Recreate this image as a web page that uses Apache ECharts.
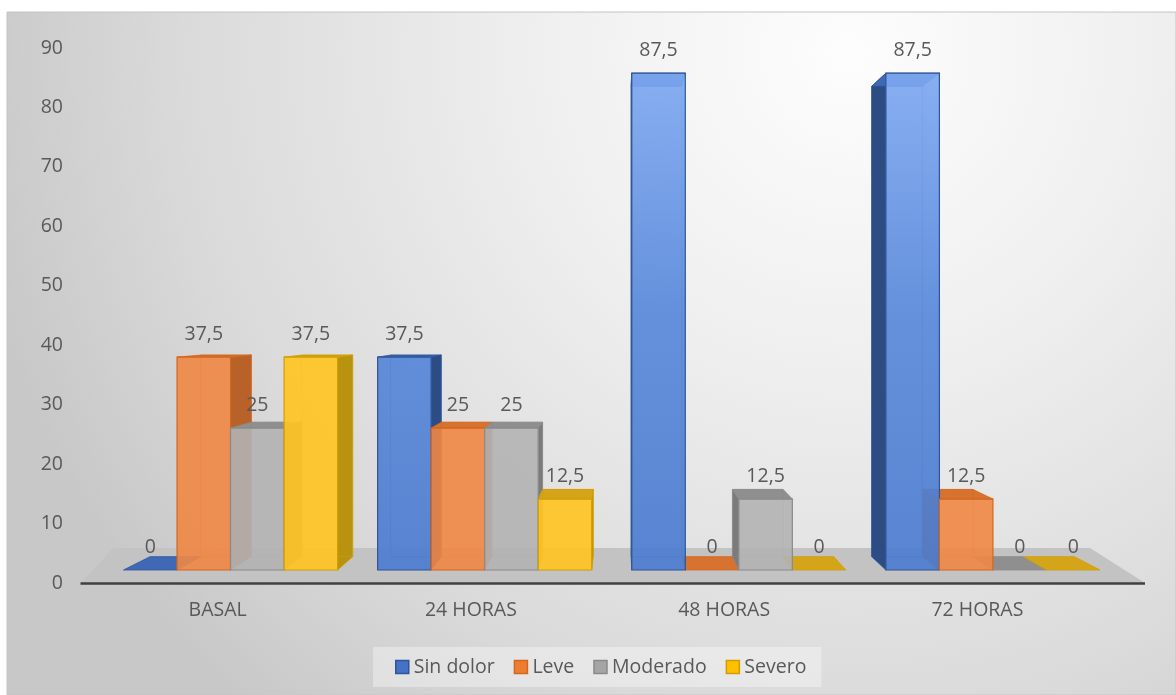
<!DOCTYPE html>
<html>
<head>
<meta charset="utf-8">
<script src="https://cdn.jsdelivr.net/npm/echarts@6/dist/echarts.min.js"></script>
<style>
html,body{margin:0;padding:0;background:#ffffff;}
#chart{width:1176px;height:695px;}
</style>
</head>
<body>
<div id="chart"></div>
<script>
// ---- data ----
const categories = ['BASAL', '24 HORAS', '48 HORAS', '72 HORAS'];
const seriesNames = ['Sin dolor', 'Leve', 'Moderado', 'Severo'];
const sinDolor = [0, 37.5, 87.5, 87.5];
const leve = [37.5, 25, 0, 12.5];
const moderado = [25, 25, 12.5, 0];
const severo = [37.5, 12.5, 0, 0];
const yTicks = [0, 10, 20, 30, 40, 50, 60, 70, 80, 90];

const seriesValues = [sinDolor, leve, moderado, severo];

// ---- styles ----
const FONT_FAMILY = '"Open Sans", "Noto Sans", sans-serif';
const FONT_SIZE = 19.5;
const FONT = FONT_SIZE + 'px ' + FONT_FAMILY;

const palette = [
  { top: '#3f69b5', side: '#2d4c84', edge: '#2f5597', legend: '#4472C4' },
  { front: 'rgba(240,135,68,0.9)', top: '#d7732f', side: '#b8622a', edge: '#d2671f', legend: '#ED7D31' },
  { front: 'rgba(178,178,178,0.9)', top: '#8f8f8f', side: '#7b7b7b', edge: '#8a8a8a', legend: '#A5A5A5' },
  { front: 'rgba(254,196,36,0.92)', top: '#d4a51a', side: '#b8930f', edge: '#d09e00', legend: '#FFC000' }
];
const BAR_FRAC = 53.5 / 254;
const K = 0.0534;

function fmt(v) { return String(v).replace('.', ','); }

function frontFill(s, cs) {
  if (s === 0) {
    return new echarts.graphic.LinearGradient(0, cs.y, 0, cs.y + cs.height, [
      { offset: 0, color: 'rgba(128,170,242,0.92)' },
      { offset: 0.5, color: 'rgba(88,136,218,0.92)' },
      { offset: 1, color: 'rgba(76,124,207,0.92)' }
    ], true);
  }
  return palette[s].front;
}

function geom(params, api, s) {
  const ci = api.value(0), v = api.value(1);
  const base = api.coord([ci, 0]);
  const top = api.coord([ci, v]);
  const band = api.size([1, 0])[0];
  const bw = band * BAR_FRAC;
  const x0 = base[0] - 2 * bw + s * bw, x1 = x0 + bw;
  const cs = params.coordSys;
  const vx = cs.x + cs.width * 0.508, vy = cs.y + cs.height * 0.51;
  const back = (x, y) => [x + K * (vx - x), y + K * (vy - y)];
  return { x0, x1, yb: base[1], yt: top[1], back, vx, v, cs };
}

function depthRenderer(s) {
  const c = palette[s];
  return function (params, api) {
    const g = geom(params, api, s);
    const children = [];
    const cx = (g.x0 + g.x1) / 2;
    const sx = cx < g.vx ? g.x1 : g.x0;
    if (g.yt < g.yb) {
      children.push({
        type: 'polygon',
        shape: { points: [[sx, g.yt], g.back(sx, g.yt), g.back(sx, g.yb), [sx, g.yb]] },
        style: { fill: c.side, stroke: c.edge, lineWidth: 0.8 }
      });
    }
    children.push({
      type: 'polygon',
      shape: { points: [[g.x0, g.yt], [g.x1, g.yt], g.back(g.x1, g.yt), g.back(g.x0, g.yt)] },
      style: { fill: c.top, stroke: c.edge, lineWidth: 0.8 }
    });
    if (g.yt < g.yb) {
      children.push({
        type: 'polygon',
        shape: { points: [g.back(g.x0, g.yt), g.back(g.x1, g.yt), g.back(g.x1, g.yb), g.back(g.x0, g.yb)] },
        style: { fill: 'none', stroke: c.edge, lineWidth: 1, opacity: 0.5 }
      });
    }
    return { type: 'group', children };
  };
}

function frontRenderer(s) {
  const c = palette[s];
  return function (params, api) {
    const g = geom(params, api, s);
    const children = [];
    if (g.yt < g.yb) {
      children.push({
        type: 'rect',
        shape: { x: g.x0, y: g.yt, width: g.x1 - g.x0, height: g.yb - g.yt },
        style: { fill: frontFill(s, g.cs), stroke: c.edge, lineWidth: 1.2 }
      });
    }
    children.push({
      type: 'text',
      style: {
        text: fmt(g.v), x: (g.x0 + g.x1) / 2, y: g.yt - 23,
        align: 'center', verticalAlign: 'middle', textAlign: 'center', textVerticalAlign: 'middle',
        fill: '#595959', font: FONT
      }
    });
    return { type: 'group', children };
  };
}

function floorRenderer(params, api) {
  const cs = params.coordSys;
  const y0 = api.coord([0, 0])[1];
  const L = cs.x, R = cs.x + cs.width;
  return {
    type: 'group',
    children: [
      {
        type: 'polygon',
        shape: { points: [[L - 23, y0 + 13], [R + 25, y0 + 13], [R - 30, y0 - 22], [L + 10, y0 - 22]] },
        style: { fill: '#c3c3c3' }
      },
      {
        type: 'line',
        shape: { x1: L - 23, y1: y0 + 13.5, x2: R + 25, y2: y0 + 13.5 },
        style: { stroke: '#404040', lineWidth: 2.5 }
      }
    ]
  };
}

const series = [{
  type: 'custom', name: 'floor', xAxisIndex: 1, yAxisIndex: 1,
  data: [[0, 0]], renderItem: floorRenderer, z: 1, silent: true
}];
seriesNames.forEach((name, s) => {
  const data = categories.map((_, i) => [i, seriesValues[s][i]]);
  series.push({
    type: 'custom', name, xAxisIndex: 1, yAxisIndex: 1, data,
    renderItem: depthRenderer(s), z: 2, itemStyle: { color: palette[s].legend }
  });
});
seriesNames.forEach((name, s) => {
  const data = categories.map((_, i) => [i, seriesValues[s][i]]);
  series.push({
    type: 'custom', name, xAxisIndex: 1, yAxisIndex: 1, data,
    renderItem: frontRenderer(s), z: 3, itemStyle: { color: palette[s].legend }
  });
});

const chart = echarts.init(document.getElementById('chart'));
chart.setOption({
  animation: false,
  backgroundColor: '#ffffff',
  graphic: [{
    type: 'rect', z: -10, silent: true,
    shape: { x: 7, y: 12, width: 1169, height: 683 },
    style: {
      stroke: '#c4c4c4', lineWidth: 1,
      fill: new echarts.graphic.RadialGradient(0.72, 0.06, 1.3, [
        { offset: 0, color: '#fdfdfd' },
        { offset: 0.35, color: '#efefef' },
        { offset: 0.75, color: '#dadada' },
        { offset: 1, color: '#c8c8c8' }
      ])
    }
  }],
  legend: {
    data: seriesNames.map((n, s) => ({
      name: n, icon: 'rect',
      itemStyle: { color: palette[s].legend, borderColor: palette[s].edge, borderWidth: 1.5 }
    })),
    left: 373, top: 647,
    padding: [10, 15, 10, 22],
    itemWidth: 13, itemHeight: 13, itemGap: 19,
    backgroundColor: 'rgba(255,255,255,0.35)',
    textStyle: { color: '#595959', fontSize: FONT_SIZE, fontFamily: FONT_FAMILY },
    selectedMode: false
  },
  grid: [
    { left: 91, right: 72, top: 48, bottom: 112 },
    { left: 103.5, right: 56, top: 59, bottom: 125 }
  ],
  xAxis: [
    {
      type: 'category', gridIndex: 0, data: categories,
      axisLine: { show: false }, axisTick: { show: false },
      axisLabel: { margin: 17, color: '#595959', fontSize: FONT_SIZE, fontFamily: FONT_FAMILY }
    },
    { type: 'category', gridIndex: 1, data: categories, show: false }
  ],
  yAxis: [
    {
      type: 'value', gridIndex: 0, min: yTicks[0], max: yTicks[yTicks.length - 1], interval: 10,
      axisLine: { show: false }, axisTick: { show: false }, splitLine: { show: false },
      axisLabel: { margin: 28, color: '#595959', fontSize: FONT_SIZE, fontFamily: FONT_FAMILY }
    },
    { type: 'value', gridIndex: 1, min: 0, max: 90, interval: 10, show: false }
  ],
  series
});
</script>
</body>
</html>
